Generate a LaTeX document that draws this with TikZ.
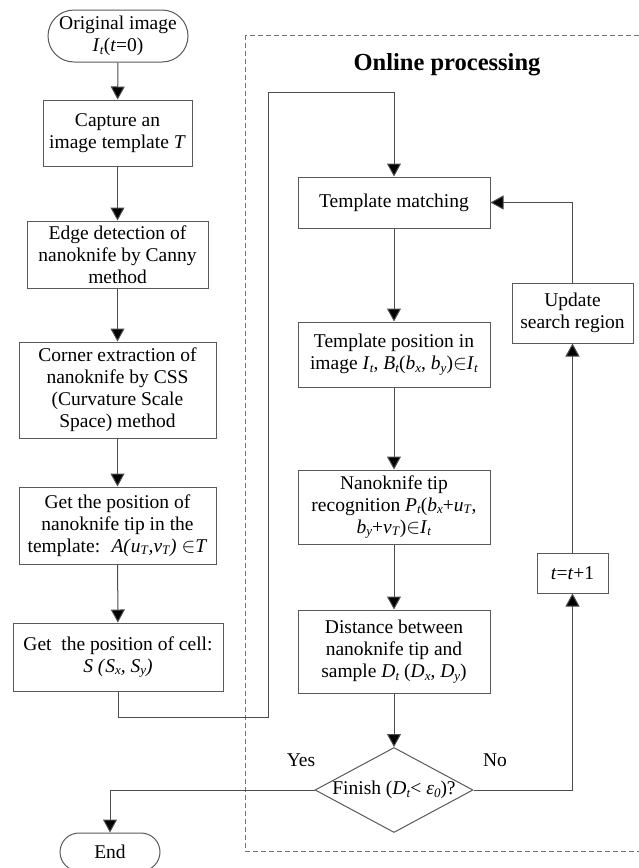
\documentclass[tikz,border=0pt]{standalone}
\usepackage{fontspec}
\setmainfont{Liberation Serif}
\usepackage{amssymb}
\usetikzlibrary{
    arrows.meta,
    shapes.geometric,
    shapes.misc,
    positioning
}
\newcommand{\vr}[1]{\textit{#1}}
\newcommand{\sbs}[2]{\textit{#1}\raisebox{-0.3ex}{\fontsize{13}{13}\selectfont\textit{#2}}}

\begin{document}
\begin{tikzpicture}[x=1pt, y=-1pt,
    font=\fontsize{19.5}{22}\selectfont,
    proc/.style={draw=black!65, line width=1pt, rectangle, align=center, inner sep=0pt},
    term/.style={draw=black!65, line width=1pt, rounded rectangle, align=center, inner sep=0pt},
    flow/.style={draw=black!70, line width=1pt, -{Triangle[width=14pt,length=13pt,fill=black]}}]
                        \useasboundingbox (0, 0) rectangle (638, 868);
                        \draw[black!55, line width=1pt, dash pattern=on 5pt off 3pt] (245, 35) rectangle (642, 851);
                        \node[font=\fontsize{24.5}{26}\selectfont\bfseries] (title) at (447, 65) {Online processing};

                        % offline part
                        \node[term, minimum width=140, minimum height=52] (orig) at (118, 36) {Original image\\\sbs{I}{t}(\vr{t}=0)};
                        \node[proc, minimum width=149, minimum height=66] (capt) at (117.5, 133) {Capture an\\image template \vr{T}};
                        \node[proc, minimum width=181, minimum height=67] (edge) at (117.5, 254.5) {Edge detection of\\nanoknife by Canny\\method};
                        \node[proc, minimum width=197, minimum height=96] (corn) at (117.5, 390) {Corner extraction of\\nanoknife by CSS\\(Curvature Scale\\Space) method};
                        \node[proc, minimum width=197, minimum height=77] (tip) at (117.5, 525.5) {Get the position of\\nanoknife tip in the\\template:~ \vr{A(}\sbs{u}{T}\vr{,}\sbs{v}{T}\vr{)} $\in$\vr{T}};
                        \node[proc, minimum width=210, minimum height=68] (cell) at (118, 657) {Get~ the position of cell:\\\vr{S (}\sbs{S}{x}\vr{, }\sbs{S}{y}\vr{)}};
                        \node[term, minimum width=100, minimum height=38] (end) at (110, 852) {End};

                        % online part
                        \node[proc, minimum width=192, minimum height=51] (match) at (394, 202.5) {Template matching};
                        \node[proc, minimum width=192, minimum height=65] (pos) at (394, 354.5) {Template position in\\image \sbs{I}{t}, \sbs{B}{t}(\sbs{b}{x}, \sbs{b}{y})$\in$\sbs{I}{t}};
                        \node[proc, minimum width=192, minimum height=74] (recog) at (394, 507) {Nanoknife tip\\recognition \sbs{P}{t}(\sbs{b}{x}+\sbs{u}{T},\\\sbs{b}{y}+\sbs{v}{T})$\in$\sbs{I}{t}};
                        \node[proc, minimum width=192, minimum height=83] (dist) at (394, 651.5) {Distance between\\nanoknife tip and\\sample \sbs{D}{t} (\sbs{D}{x}, \sbs{D}{y})};
                        \node[draw=black!65, line width=1pt, diamond, aspect=1.86, inner sep=0pt, minimum width=158, minimum height=85] (fin) at (394, 790) {};
                        \node (fintext) at (394, 790) {Finish (\sbs{D}{t}< \sbs{ε}{0})?};
                        \node[proc, minimum width=121, minimum height=60] (upd) at (572.5, 313) {Update\\search region};
                        \node[proc, minimum width=71, minimum height=40] (inc) at (572.5, 573) {\vr{t}=\vr{t}+1};
                        \node (yes) at (301, 760) {Yes};
                        \node (no) at (495, 760) {No};

                        \draw[flow] (orig) -- (capt);
                        \draw[flow] (capt) -- (edge);
                        \draw[flow] (edge) -- (corn);
                        \draw[flow] (corn) -- (tip);
                        \draw[flow] (tip) -- (cell);
                        \draw[flow] (cell.south) -- (118, 717) -- (268, 717) -- (268, 92) -- (394, 92) -- (match.north);
                        \draw[flow] (match) -- (pos);
                        \draw[flow] (pos) -- (recog);
                        \draw[flow] (recog) -- (dist);
                        \draw[flow] (dist) -- (fin.north);
                        \draw[flow] (fin.west) -| (end.north);
                        \draw[flow] (fin.east) -| (inc.south);
                        \draw[flow] (inc) -- (upd);
                        \draw[flow] (upd.north) |- (match.east);
                    \end{tikzpicture}
\end{document}
